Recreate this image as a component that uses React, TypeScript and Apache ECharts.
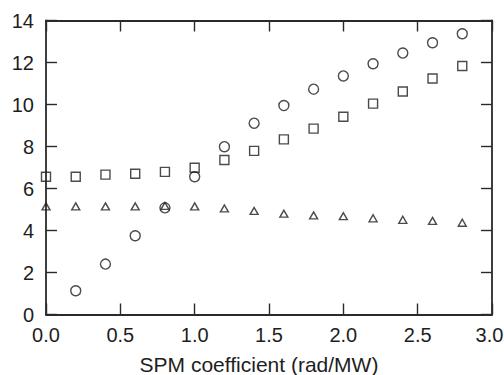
import React, { useEffect, useRef } from "react";
import * as echarts from "echarts";

const xValues = [0, 0.2, 0.4, 0.6, 0.8, 1.0, 1.2, 1.4, 1.6, 1.8, 2.0, 2.2, 2.4, 2.6, 2.8];
const circleValues = [null, 1.13, 2.4, 3.75, 5.08, 6.56, 7.99, 9.11, 9.95, 10.73, 11.36, 11.94, 12.45, 12.94, 13.37];
const squareValues = [6.56, 6.56, 6.66, 6.7, 6.79, 6.99, 7.36, 7.79, 8.34, 8.85, 9.42, 10.04, 10.62, 11.24, 11.83];
const triangleValues = [5.15, 5.15, 5.15, 5.15, 5.17, 5.15, 5.05, 4.93, 4.8, 4.72, 4.68, 4.58, 4.51, 4.46, 4.37];
const xTitle = "SPM coefficient (rad/MW)";

const pairs = (ys: (number | null)[]) =>
  xValues.map((x, i) => [x, ys[i]]).filter((p) => p[1] !== null);

export default function App() {
  const ref = useRef<HTMLDivElement>(null);
  useEffect(() => {
    const chart = echarts.init(ref.current!, null, { renderer: "svg" });
    const axisColor = "#2a2a2a";
    const font = "'Liberation Sans', Arial, Helvetica, sans-serif";
    const tick = { show: true, inside: true, length: 11, lineStyle: { color: axisColor, width: 1.4 } };
    const line = { show: true, onZero: false, lineStyle: { color: axisColor, width: 1.8 } };
    const hollow = { color: "rgba(0,0,0,0)", borderColor: "#1e1e1e", borderWidth: 1.4 };
    chart.setOption({
      animation: false,
      backgroundColor: "#fff",
      grid: { left: 46, right: 12, top: 20.5, bottom: 60.5, containLabel: false, outerBoundsMode: "none" },
      xAxis: [
        {
          type: "value", min: 0, max: 3, interval: 0.5, position: "bottom",
          axisLine: line, axisTick: tick, splitLine: { show: false },
          axisLabel: {
            formatter: (v: number) => (v === 3 ? "{r|" + v.toFixed(1) + "}" : v.toFixed(1)),
            color: "#1e1e1e", fontSize: 20, fontFamily: font, margin: 10,
            rich: { r: { color: "#1e1e1e", fontSize: 20, fontFamily: font, padding: [0, 5, 0, 0] } },
          },
          name: xTitle, nameLocation: "middle", nameGap: 39,
          nameTextStyle: { color: "#1e1e1e", fontSize: 21, fontFamily: font, padding: [0, 20, 0, 0] },
        },
        {
          type: "value", min: 0, max: 3, interval: 0.5, position: "top",
          axisLine: line, axisTick: tick, splitLine: { show: false }, axisLabel: { show: false },
        },
      ],
      yAxis: [
        {
          type: "value", min: 0, max: 14, interval: 2, position: "left",
          axisLine: line, axisTick: tick, splitLine: { show: false },
          axisLabel: { color: "#1e1e1e", fontSize: 20, fontFamily: font, margin: 12 },
        },
        {
          type: "value", min: 0, max: 14, interval: 2, position: "right",
          axisLine: line, axisTick: tick, splitLine: { show: false }, axisLabel: { show: false },
        },
      ],
      series: [
        { type: "scatter", symbol: "triangle", symbolSize: [8, 7], itemStyle: hollow, data: pairs(triangleValues) },
        { type: "scatter", symbol: "rect", symbolSize: 9, itemStyle: hollow, data: pairs(squareValues) },
        { type: "scatter", symbol: "circle", symbolSize: 10, itemStyle: hollow, data: pairs(circleValues) },
      ],
    });
    return () => chart.dispose();
  }, []);
  return <div ref={ref} style={{ width: 504, height: 375, position: "absolute", left: 0, top: 0 }} />;
}
